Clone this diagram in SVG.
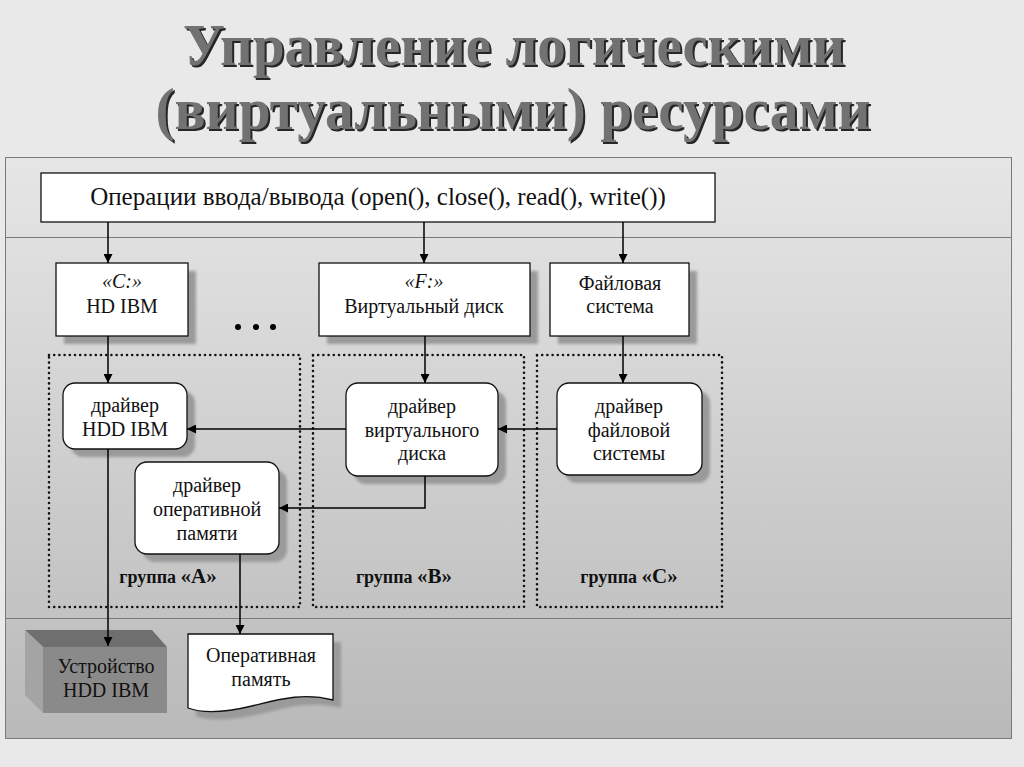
<svg xmlns="http://www.w3.org/2000/svg" width="1024" height="767" viewBox="0 0 1024 767">
<defs>
<linearGradient id="bg" x1="0" y1="0" x2="0" y2="1">
<stop offset="0" stop-color="#e6e6e6"/>
<stop offset="1" stop-color="#b9b9b9"/>
</linearGradient>
<filter id="blur" x="-20%" y="-20%" width="140%" height="140%"><feGaussianBlur stdDeviation="1.5"/></filter>
<marker id="ah" viewBox="0 0 10 10" refX="10" refY="5" markerWidth="9" markerHeight="9" markerUnits="userSpaceOnUse" orient="auto">
<path d="M0,0 L10,5 L0,10 Z" fill="#000"/>
</marker>
<style>
.t{font-family:"Liberation Serif","Times New Roman",serif;fill:#111;text-anchor:middle}
.box{fill:#fff;stroke:#111;stroke-width:1.3}
.sh{fill:#9a9a9a;filter:url(#blur)}
.grp{fill:none;stroke:#111;stroke-width:2.6;stroke-dasharray:0 5.2;stroke-linecap:round}
.c{fill:none;stroke:#000;stroke-width:1.5;marker-end:url(#ah)}
.title{font-family:"Liberation Serif","Times New Roman",serif;font-weight:bold;font-size:60px;text-anchor:middle}
.gl{font-family:"Liberation Serif","Times New Roman",serif;font-weight:bold;font-size:18px;fill:#111;text-anchor:middle}
</style>
</defs>
<rect width="1024" height="767" fill="#e9e9e9"/>
<g id="title">
<text class="title" x="516" y="67" fill="#262626" textLength="662" lengthAdjust="spacingAndGlyphs">Управление логическими</text>
<text class="title" x="514" y="65" fill="#727272" textLength="662" lengthAdjust="spacingAndGlyphs">Управление логическими</text>
<text class="title" x="515" y="131" fill="#262626" textLength="715" lengthAdjust="spacingAndGlyphs">(виртуальными) ресурсами</text>
<text class="title" x="513" y="129" fill="#727272" textLength="715" lengthAdjust="spacingAndGlyphs">(виртуальными) ресурсами</text>
</g>
<g id="frame">
<rect x="5.5" y="157.5" width="1006" height="581" fill="url(#bg)" stroke="#7a7a7a" stroke-width="1"/>
<line x1="5.5" y1="237.5" x2="1011.5" y2="237.5" stroke="#7a7a7a" stroke-width="1"/>
<line x1="5.5" y1="618.5" x2="1011.5" y2="618.5" stroke="#7a7a7a" stroke-width="1"/>
</g>
<g id="groups">
<rect class="grp" x="49" y="355" width="251" height="252"/>
<rect class="grp" x="313" y="355" width="211" height="252"/>
<rect class="grp" x="537" y="355" width="185" height="252"/>
<text class="gl" x="168" y="583">группа <tspan font-size="21">«A»</tspan></text>
<text class="gl" x="404" y="583">группа <tspan font-size="21">«B»</tspan></text>
<text class="gl" x="629" y="583">группа <tspan font-size="21">«C»</tspan></text>
</g>
<g id="io">
<rect class="box" x="41" y="173" width="674" height="49"/>
<text class="t" x="378" y="205" font-size="25">Операции ввода/вывода (open(), close(), read(), write())</text>
</g>
<g id="hd">
<rect class="sh" x="64" y="271" width="132" height="73"/>
<rect class="box" x="56" y="263" width="132" height="73"/>
<text class="t" x="122" y="288" font-size="20" font-style="italic">«C:»</text>
<text class="t" x="122" y="313" font-size="20">HD IBM</text>
</g>
<g id="dots" fill="#000">
<circle cx="238" cy="327" r="3"/>
<circle cx="256" cy="327" r="3"/>
<circle cx="273" cy="327" r="3"/>
</g>
<g id="vdisk">
<rect class="sh" x="327" y="271" width="211" height="73"/>
<rect class="box" x="319" y="263" width="211" height="73"/>
<text class="t" x="424" y="288" font-size="20" font-style="italic">«F:»</text>
<text class="t" x="424" y="313" font-size="20">Виртуальный диск</text>
</g>
<g id="fs">
<rect class="sh" x="558" y="271" width="139" height="73"/>
<rect class="box" x="550" y="263" width="139" height="73"/>
<text class="t" x="620" y="290" font-size="20">Файловая</text>
<text class="t" x="620" y="313" font-size="20">система</text>
</g>
<g id="drv-hdd">
<rect class="sh" x="71" y="391" width="124" height="66" rx="12"/>
<rect class="box" x="63" y="383" width="124" height="66" rx="12"/>
<text class="t" x="125" y="412" font-size="20">драйвер</text>
<text class="t" x="125" y="436" font-size="20">HDD IBM</text>
</g>
<g id="drv-vdisk">
<rect class="sh" x="354" y="391" width="152" height="93" rx="12"/>
<rect class="box" x="346" y="383" width="152" height="93" rx="12"/>
<text class="t" x="422" y="413" font-size="20">драйвер</text>
<text class="t" x="422" y="437" font-size="20">виртуального</text>
<text class="t" x="422" y="460" font-size="20">диска</text>
</g>
<g id="drv-fs">
<rect class="sh" x="565" y="391" width="145" height="92" rx="12"/>
<rect class="box" x="557" y="383" width="145" height="92" rx="12"/>
<text class="t" x="629" y="413" font-size="20">драйвер</text>
<text class="t" x="629" y="437" font-size="20">файловой</text>
<text class="t" x="629" y="460" font-size="20">системы</text>
</g>
<g id="drv-ram">
<rect class="sh" x="143" y="470" width="144" height="92" rx="12"/>
<rect class="box" x="135" y="462" width="144" height="92" rx="12"/>
<text class="t" x="207" y="492" font-size="20">драйвер</text>
<text class="t" x="207" y="516" font-size="20">оперативной</text>
<text class="t" x="207" y="540" font-size="20">памяти</text>
</g>
<g id="device">
<polygon points="25,630 152,630 167,647 43,647" fill="#6f6f6f"/>
<polygon points="25,630 43,647 43,713 25,695" fill="#a4a4a4"/>
<rect x="43" y="647" width="124" height="66" fill="#8a8a8a"/>
<text class="t" x="106" y="673" font-size="20">Устройство</text>
<text class="t" x="106" y="697" font-size="20">HDD IBM</text>
</g>
<g id="ram">
<path class="sh" d="M196,642 H341 V708 C310,700 285,708 260,714 C235,720 212,722 196,716 Z"/>
<path d="M188,634 H333 V700 C302,692 277,700 252,706 C227,712 204,714 188,708 Z" fill="#fff" stroke="#111" stroke-width="1.3"/>
<text class="t" x="261" y="662" font-size="20">Оперативная</text>
<text class="t" x="261" y="686" font-size="20">память</text>
</g>
<g id="connectors">
<path class="c" d="M108,222 V263"/>
<path class="c" d="M424,222 V263"/>
<path class="c" d="M623,222 V263"/>
<path class="c" d="M108,336 V383"/>
<path class="c" d="M425,336 V383"/>
<path class="c" d="M623,336 V383"/>
<path class="c" d="M346,429 H187"/>
<path class="c" d="M557,429 H498"/>
<path class="c" d="M425,476 V508 H279"/>
<path class="c" d="M108,449 V646"/>
<path class="c" d="M240,554 V634"/>
</g>
</svg>
